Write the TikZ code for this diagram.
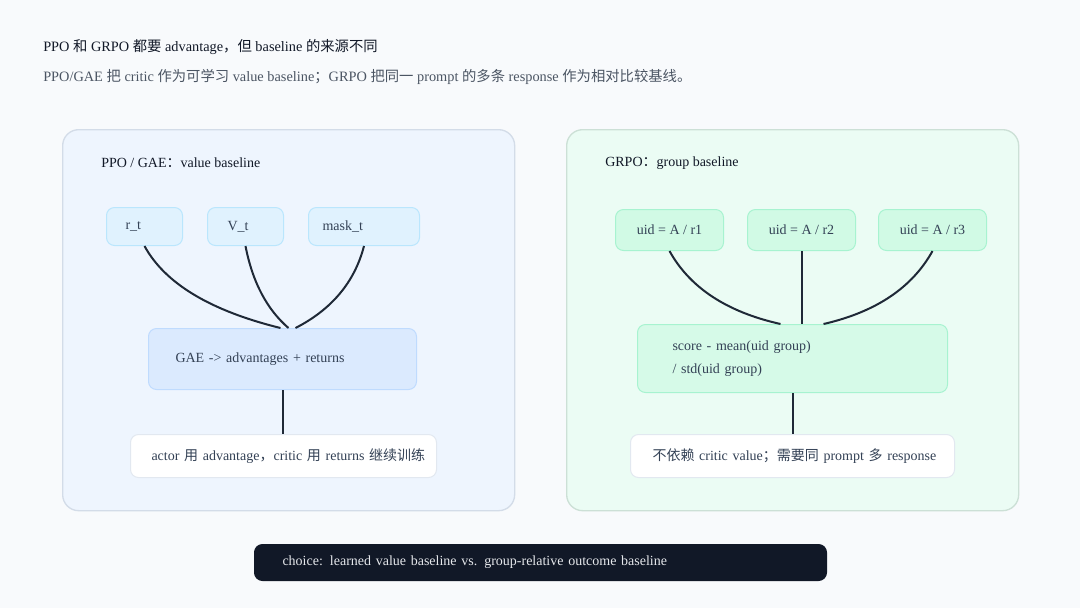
\documentclass[tikz,border=0pt]{standalone}
\usepackage{fontspec}
\setmainfont{Liberation Serif}
\newfontfamily\cjk{Noto Sans CJK SC}
\newcommand\zh[1]{{\cjk #1}}
\usetikzlibrary{calc}
\definecolor{bgcol}{HTML}{F8FAFC}
\definecolor{titlecol}{HTML}{111827}
\definecolor{subcol}{HTML}{4B5563}
\definecolor{lpanel}{HTML}{EEF5FE}
\definecolor{lpanelb}{HTML}{D3DCE8}
\definecolor{rpanel}{HTML}{EBFCF4}
\definecolor{rpanelb}{HTML}{CCE0D6}
\definecolor{lsmall}{HTML}{E0F2FE}
\definecolor{lsmallb}{HTML}{BAE6FD}
\definecolor{lmid}{HTML}{DBEAFE}
\definecolor{lmidb}{HTML}{BFDBFE}
\definecolor{rsmall}{HTML}{D1FAE5}
\definecolor{rsmallb}{HTML}{A7F3D0}
\definecolor{rmid}{HTML}{D6FAE8}
\definecolor{whiteb}{HTML}{E2E8F0}
\definecolor{linecol}{HTML}{1F2937}
\definecolor{barcol}{HTML}{111827}
\definecolor{bartext}{HTML}{E5E7EB}
\definecolor{nodetext}{HTML}{334155}
\tikzset{
  panel/.style={draw, line width=1pt, rounded corners=12pt, anchor=north west, inner sep=0pt},
  boxbase/.style={draw, line width=0.75pt, rounded corners=6pt, anchor=north west, align=left, text=nodetext, font=\fontsize{10.5}{12}\selectfont, inner ysep=0pt},
  lsm/.style={boxbase, fill=lsmall, draw=lsmallb, minimum height=28.5pt},
  rsm/.style={boxbase, fill=rsmall, draw=rsmallb, minimum height=30.75pt, minimum width=81pt, align=center, inner xsep=0pt},
  wbox/.style={boxbase, fill=white, draw=whiteb, minimum height=32.25pt},
  conn/.style={draw=linecol, line width=1.5pt},
  lbl/.style={anchor=west, inner sep=0pt, text=titlecol, font=\fontsize{10.5}{12}\selectfont},
}
\begin{document}
\begin{tikzpicture}[x=0.75pt,y=-0.75pt]
\useasboundingbox (0,0) rectangle (1080,608);
\fill[bgcol] (0,0) rectangle (1080,608);

% titles
\node[lbl, font=\fontsize{10.75}{12}\selectfont] (title) at (43,47) {PPO \zh{和} GRPO \zh{都要} advantage\zh{，但} baseline \zh{的来源不同}};
\node[lbl, text=subcol, font=\fontsize{10.75}{12}\selectfont] (subtitle) at (43,77) {PPO/GAE \zh{把} critic \zh{作为可学习} value baseline\zh{；}GRPO \zh{把同一} prompt \zh{的多条} response \zh{作为相对比较基线。}};

% panels
\node[panel, fill=lpanel, draw=lpanelb, minimum width=339pt, minimum height=285.75pt] (lp) at (62,129) {};
\node[panel, fill=rpanel, draw=rpanelb, minimum width=339pt, minimum height=285.75pt] (rp) at (566,129) {};
\node[lbl] (lpl) at (101,163) {PPO / GAE\zh{：}value baseline};
\node[lbl] (rpl) at (605,163) {GRPO\zh{：}group baseline};

% left nodes
\node[lsm, inner xsep=14.25pt, text width=28.5pt] (rt) at (106,207) {r\_t};
\node[lsm, inner xsep=15pt, text width=27pt] (vt) at (207,207) {V\_t};
\node[lsm, inner xsep=10.5pt, text width=62.25pt] (mt) at (308,207) {mask\_t};
\node[boxbase, fill=lmid, draw=lmidb, minimum height=45.75pt, inner xsep=20.25pt, text width=160.5pt] (gae) at (148,328) {GAE -> advantages + returns};
\node[wbox, inner xsep=15.75pt, text width=198pt] (act) at (130,434) {\mbox{actor \zh{用} advantage\zh{，}critic \zh{用} returns \zh{继续训练}}};

\coordinate (e1) at ($(gae.north)+(-2,0)$);
\coordinate (e2) at ($(gae.north)+(6,0)$);
\coordinate (e3) at ($(gae.north)+(13,0)$);
\coordinate (c1) at (175,302);
\coordinate (c2) at (256,300);
\coordinate (c3) at (350,300);
\draw[conn] (rt.south) .. controls ($(rt.south)!0.667!(c1)$) and ($(e1)!0.667!(c1)$) .. (e1);
\draw[conn] (vt.south) .. controls ($(vt.south)!0.667!(c2)$) and ($(e2)!0.667!(c2)$) .. (e2);
\draw[conn] (mt.south) .. controls ($(mt.south)!0.667!(c3)$) and ($(e3)!0.667!(c3)$) .. (e3);
\draw[conn] (gae.south) -- (act.north -| gae.south);

% right nodes
\node[rsm] (r1) at (615,209) {uid = A / r1};
\node[rsm] (r2) at (747,209) {uid = A / r2};
\node[rsm] (r3) at (878,209) {uid = A / r3};
\node[boxbase, fill=rmid, draw=rsmallb, minimum height=51pt, inner xsep=26.25pt, text width=180pt, font=\fontsize{10.5}{17.25}\selectfont] (score) at (637,324) {score - mean(uid group)\\/ std(uid group)};
\node[wbox, inner xsep=16.5pt, text width=210pt] (nod) at (630,434) {\mbox{\zh{不依赖} critic value\zh{；需要同} prompt \zh{多} response}};

\coordinate (f1) at ($(score.north)+(-12,0)$);
\coordinate (f3) at ($(score.north)+(31,0)$);
\coordinate (d1) at (700,306);
\coordinate (d3) at (902,306);
\draw[conn] (r1.south) .. controls ($(r1.south)!0.667!(d1)$) and ($(f1)!0.667!(d1)$) .. (f1);
\draw[conn] (r2.south) -- (r2.south |- score.north);
\draw[conn] (r3.south) .. controls ($(r3.south)!0.667!(d3)$) and ($(f3)!0.667!(d3)$) .. (f3);
\draw[conn] (score.south) -- (score.south |- nod.north);

% bottom bar
\node[boxbase, fill=barcol, draw=barcol, rounded corners=6pt, text=bartext, minimum height=27pt, inner xsep=21pt, text width=387pt] (bar) at (254,544) {choice: learned value baseline vs. group-relative outcome baseline};
\end{tikzpicture}
\end{document}
